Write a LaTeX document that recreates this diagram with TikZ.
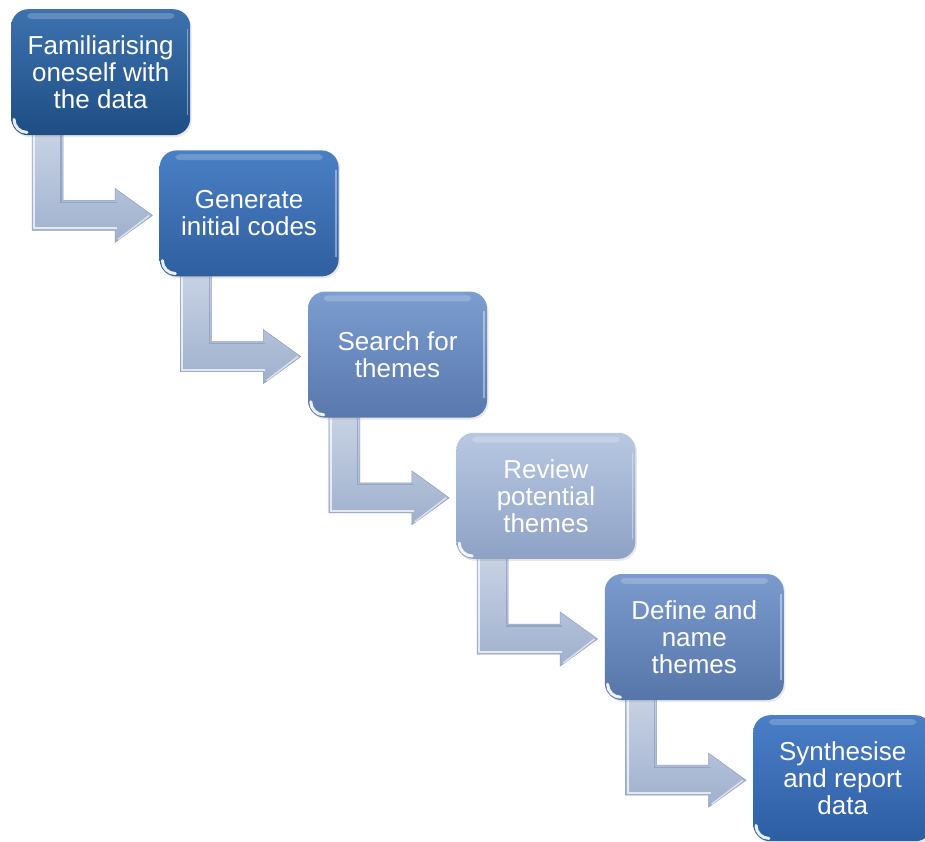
\documentclass[tikz,border=0pt]{standalone}
\usepackage{fontspec}
\setmainfont{Liberation Sans}
\usetikzlibrary{calc,shadows}
\pgfdeclarelayer{background}
\pgfsetlayers{background,main}
\definecolor{topA}{HTML}{3D72AE}\definecolor{botA}{HTML}{1E4D84}
\definecolor{topB}{HTML}{4A7FC4}\definecolor{botB}{HTML}{2F5F9F}
\definecolor{topC}{HTML}{7C9DD0}\definecolor{botC}{HTML}{5878AE}
\definecolor{topD}{HTML}{B8C8E2}\definecolor{botD}{HTML}{8EA2C6}
\definecolor{topE}{HTML}{7B9BCF}\definecolor{botE}{HTML}{5676AA}
\definecolor{topF}{HTML}{4A7EC6}\definecolor{botF}{HTML}{2C5EA4}
\definecolor{arrTop}{HTML}{C9D3E5}\definecolor{arrBot}{HTML}{9FB0CD}
\definecolor{arrEdge}{HTML}{8D9FBF}
\begin{document}
\begin{tikzpicture}[x=1pt,y=-1pt,
  stepbox/.style={rectangle, rounded corners=17pt, minimum width=179pt, minimum height=126pt,
    inner sep=0pt, anchor=north west, text=white, align=center,
    font=\fontsize{26}{27}\selectfont,
    drop shadow={opacity=0.18, shadow xshift=1.5pt, shadow yshift=-2pt}},
  bentarrow/.style={top color=arrTop, bottom color=arrBot, draw=arrEdge, line width=0.5pt, line join=miter},
  bevel/.style={white, opacity=0.7, line width=2pt},
  shine/.style={white, opacity=0.2}]
\useasboundingbox (0,0) rectangle (925,841);
\clip (0,0) rectangle (925,841);

\node[stepbox, top color=topA, bottom color=botA] (b1) at (11,9) {Familiarising\\oneself with\\the data};
\node[stepbox, top color=topB, bottom color=botB] (b2) at (159.4,150.2) {Generate\\initial codes};
\node[stepbox, top color=topC, bottom color=botC] (b3) at (307.8,291.4) {Search for\\themes};
\node[stepbox, top color=topD, bottom color=botD] (b4) at (456.2,432.6) {Review\\potential\\themes};
\node[stepbox, top color=topE, bottom color=botE] (b5) at (604.6,573.8) {Define and\\name\\themes};
\node[stepbox, top color=topF, bottom color=botF] (b6) at (753,715) {Synthesise\\and report\\data};

\foreach \b in {b1,b2,b3,b4,b5,b6}{
  \fill[shine, rounded corners=4pt] ($(\b.north west)+(16,4)$) rectangle ($(\b.north east)+(-16,10)$);
  \draw[white, opacity=0.4, line width=1.5pt] ($(\b.north east)+(-3,20)$) -- ($(\b.south east)+(-3,-20)$);
  \draw[white, opacity=0.9, line width=3pt, line cap=round] ($(\b.south west)+(3,-16)$) arc[start angle=180, end angle=270, radius=13pt];
}

\begin{pgfonlayer}{background}
\fill[white] (0,0) rectangle (925,841);
\foreach \a/\b in {b1/b2,b2/b3,b3/b4,b4/b5,b5/b6}{
  \draw[bentarrow] ($(\a.south west)+(21,-6)$) -- ($(\a.south west)+(21,95)$)
     -- ($(\a.south west)+(104,95)$) -- ($(\a.south west)+(104,107)$)
     -- ($(\b.west)+(-7,2)$) -- ($(\a.south west)+(104,53)$)
     -- ($(\a.south west)+(104,65)$) -- ($(\a.south west)+(52,65)$)
     -- ($(\a.south west)+(52,-6)$) -- cycle;
  \draw[bevel] ($(\a.south west)+(23,0)$) -- ($(\a.south west)+(23,93)$) -- ($(\a.south west)+(106,93)$);
  \draw[white, opacity=0.6, line width=1.5pt] ($(\a.south west)+(107,104)$) -- ($(\b.west)+(-10,2)$);
  \draw[arrEdge, opacity=0.8, line width=1.2pt] ($(\a.south west)+(50,0)$) -- ($(\a.south west)+(50,67)$) -- ($(\a.south west)+(106,67)$);
}
\end{pgfonlayer}
\end{tikzpicture}
\end{document}
